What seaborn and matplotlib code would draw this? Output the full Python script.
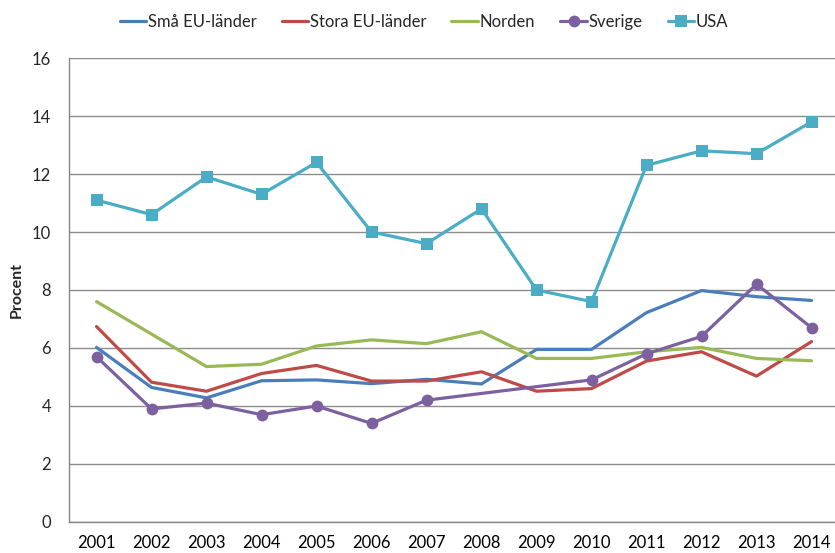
import numpy as np
import pandas as pd
import matplotlib
matplotlib.use("Agg")
import matplotlib.pyplot as plt
import seaborn as sns

# Data
years = list(range(2001, 2015))
sma_eu = [6.02, 4.64, 4.28, 4.87, 4.90, 4.77, 4.92, 4.76, 5.95, 5.95, 7.22, 7.98, 7.77, 7.64]
stora_eu = [6.74, 4.82, 4.51, 5.12, 5.40, 4.86, 4.86, 5.18, 4.51, 4.60, 5.55, 5.87, 5.03, 6.22]
norden = [7.60, 6.48, 5.36, 5.44, 6.07, 6.28, 6.15, 6.56, 5.64, 5.64, 5.87, 6.02, 5.64, 5.56]
sverige = [5.7, 3.9, 4.1, 3.7, 4.0, 3.4, 4.2, np.nan, np.nan, 4.9, 5.8, 6.4, 8.2, 6.7]
usa = [11.1, 10.6, 11.9, 11.3, 12.4, 10.0, 9.6, 10.8, 8.0, 7.6, 12.3, 12.8, 12.7, 13.8]

series = [
    ("Små EU-länder", sma_eu, "#4A7EBB", None, 0),
    ("Stora EU-länder", stora_eu, "#BE4B48", None, 0),
    ("Norden", norden, "#98B954", None, 0),
    ("Sverige", sverige, "#7D60A0", "o", 8.5),
    ("USA", usa, "#4BACC6", "s", 8),
]

sns.set_style("white")
plt.rcParams["font.family"] = ["Lato", "DejaVu Sans"]

fig = plt.figure(figsize=(8.35, 5.53), dpi=100)
ax = fig.add_axes([69 / 835, 31 / 553, 770 / 835, 464 / 553])

for name, vals, color, marker, ms in series:
    df = pd.DataFrame({"year": years, "value": vals}).dropna()
    sns.lineplot(data=df, x="year", y="value", ax=ax, color=color, linewidth=2.3,
                 marker=marker, markersize=ms, markeredgewidth=0, label=name)

ax.set_xlim(2000.5, 2014.5)
ax.set_ylim(0, 16)
ax.set_yticks(range(0, 17, 2))
ax.set_xticks(years)
ax.set_xticks(np.arange(2000.5, 2015, 1), minor=True)
ax.tick_params(axis="x", which="major", length=0, pad=9, labelsize=12, colors="black")
ax.tick_params(axis="x", which="minor", length=5, color="#868686", direction="out")
ax.tick_params(axis="y", length=5, color="#868686", direction="out", labelsize=12, pad=8)
ax.yaxis.grid(True, color="#8c8c8c", linewidth=1)
ax.set_axisbelow(True)
for s in ["top", "right"]:
    ax.spines[s].set_visible(False)
for s in ["left", "bottom"]:
    ax.spines[s].set_color("#868686")
    ax.spines[s].set_linewidth(1)

ax.set_xlabel("")
ax.set_ylabel("Procent", fontweight="bold", fontsize=11.5, labelpad=6)

ax.legend(loc="center", bbox_to_anchor=(424 / 835, 1 - 22 / 553), bbox_transform=fig.transFigure,
          ncol=5, frameon=False, fontsize=12, handlelength=1.6, handletextpad=0.1,
          columnspacing=1.5)

fig.savefig("out.png", dpi=100)
